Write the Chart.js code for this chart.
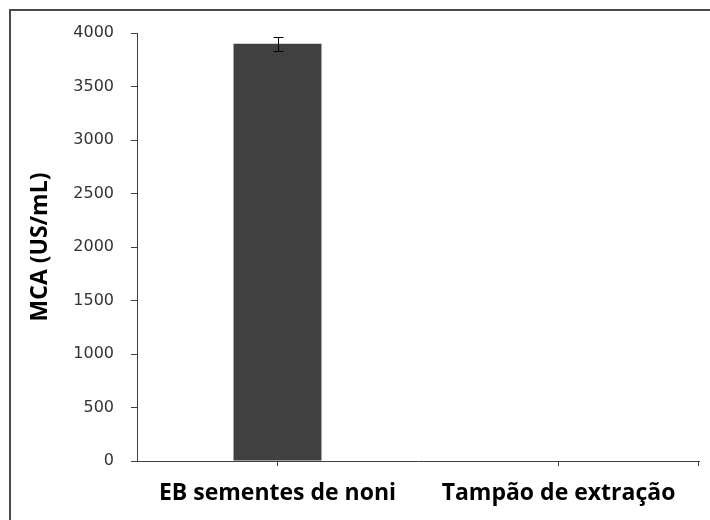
<!DOCTYPE html>
<html>
<head>
<meta charset="utf-8">
<script src="https://cdn.jsdelivr.net/npm/chart.js@4.4.0/dist/chart.umd.min.js"></script>
<style>
html,body{margin:0;padding:0;background:#fff;}
#wrap{width:710px;height:520px;position:relative;}
</style>
</head>
<body>
<div id="wrap"><canvas id="grafico"></canvas></div>
<script>
// dati
const categorie = ['EB sementes de noni', 'Tampão de extração'];
const valori = [3900, 0];
const errori = [65, 0];
const yMin = 0;
const yMax = 4000;
const yStep = 500;
const titoloY = 'MCA (US/mL)';

const GRIGIO = '#404040';
const FONT_TESTO = 'Open Sans';

// cornice, barre di errore e titolo asse Y
const extra = {
	id: 'extra',
	beforeDraw(chart){
		const ctx = chart.ctx;
		ctx.save();
		ctx.fillStyle = '#fff';
		ctx.fillRect(0, 0, chart.width, chart.height);
		ctx.strokeStyle = '#4a4a4a';
		ctx.lineWidth = 2;
		ctx.beginPath();
		ctx.moveTo(10, chart.height + 2);
		ctx.lineTo(10, 10);
		ctx.lineTo(chart.width + 2, 10);
		ctx.stroke();
		ctx.restore();
	},
	afterDatasetsDraw(chart){
		const ctx = chart.ctx;
		const x = chart.scales.x, y = chart.scales.y;
		ctx.save();
		ctx.strokeStyle = '#000';
		ctx.lineWidth = 1;
		valori.forEach((v, i) => {
			if(!errori[i]) return;
			const cx = Math.round(x.getPixelForValue(i)) + 0.5;
			const top = Math.round(y.getPixelForValue(v + errori[i])) + 0.5;
			const bot = Math.round(y.getPixelForValue(v - errori[i])) + 0.5;
			ctx.beginPath();
			ctx.moveTo(cx, top); ctx.lineTo(cx, bot);
			ctx.moveTo(cx - 5, top); ctx.lineTo(cx + 5, top);
			ctx.moveTo(cx - 5, bot); ctx.lineTo(cx + 5, bot);
			ctx.stroke();
		});
		// tacca finale dell'asse X
		const a = chart.chartArea;
		ctx.strokeStyle = GRIGIO;
		ctx.beginPath();
		ctx.moveTo(Math.round(a.right) - 0.5, a.bottom);
		ctx.lineTo(Math.round(a.right) - 0.5, a.bottom + 5);
		ctx.stroke();
		ctx.restore();
	},
	afterDraw(chart){
		const ctx = chart.ctx;
		const a = chart.chartArea;
		ctx.save();
		ctx.translate(40, (a.top + a.bottom) / 2);
		ctx.rotate(-Math.PI / 2);
		ctx.font = 'bold 23px "' + FONT_TESTO + '"';
		ctx.fillStyle = '#000';
		ctx.textAlign = 'center';
		ctx.textBaseline = 'middle';
		ctx.fillText(titoloY, 0, 0);
		ctx.restore();
	}
};

const config = {
	type: 'bar',
	data: {
		labels: categorie,
		datasets: [{
			data: valori,
			backgroundColor: GRIGIO,
			borderWidth: 0,
			barPercentage: 0.313,
			categoryPercentage: 1
		}]
	},
	options: {
		responsive: true,
		maintainAspectRatio: false,
		animation: false,
		layout: { padding: { left: 0, top: 33, right: 11, bottom: 0 } },
		plugins: {
			legend: { display: false },
			tooltip: { enabled: false }
		},
		scales: {
			x: {
				offset: true,
				grid: { offset: false, drawOnChartArea: false, tickLength: 5, color: GRIGIO },
				border: { color: GRIGIO, width: 1 },
				ticks: {
					color: '#000',
					padding: 14,
					maxRotation: 0,
					font: { family: FONT_TESTO, size: 23, weight: 'bold' }
				},
				afterFit(scale){ scale.height = 59; }
			},
			y: {
				min: yMin,
				max: yMax,
				grid: { drawOnChartArea: false, tickLength: 6, color: GRIGIO },
				border: { color: GRIGIO, width: 1 },
				ticks: {
					stepSize: yStep,
					color: '#333',
					padding: 17,
					font: { family: 'DejaVu Sans', size: 16 },
					callback: v => String(v)
				},
				afterFit(scale){ scale.width = 137; }
			}
		}
	},
	plugins: [extra]
};

new Chart(document.getElementById('grafico'), config);
</script>
</body>
</html>
